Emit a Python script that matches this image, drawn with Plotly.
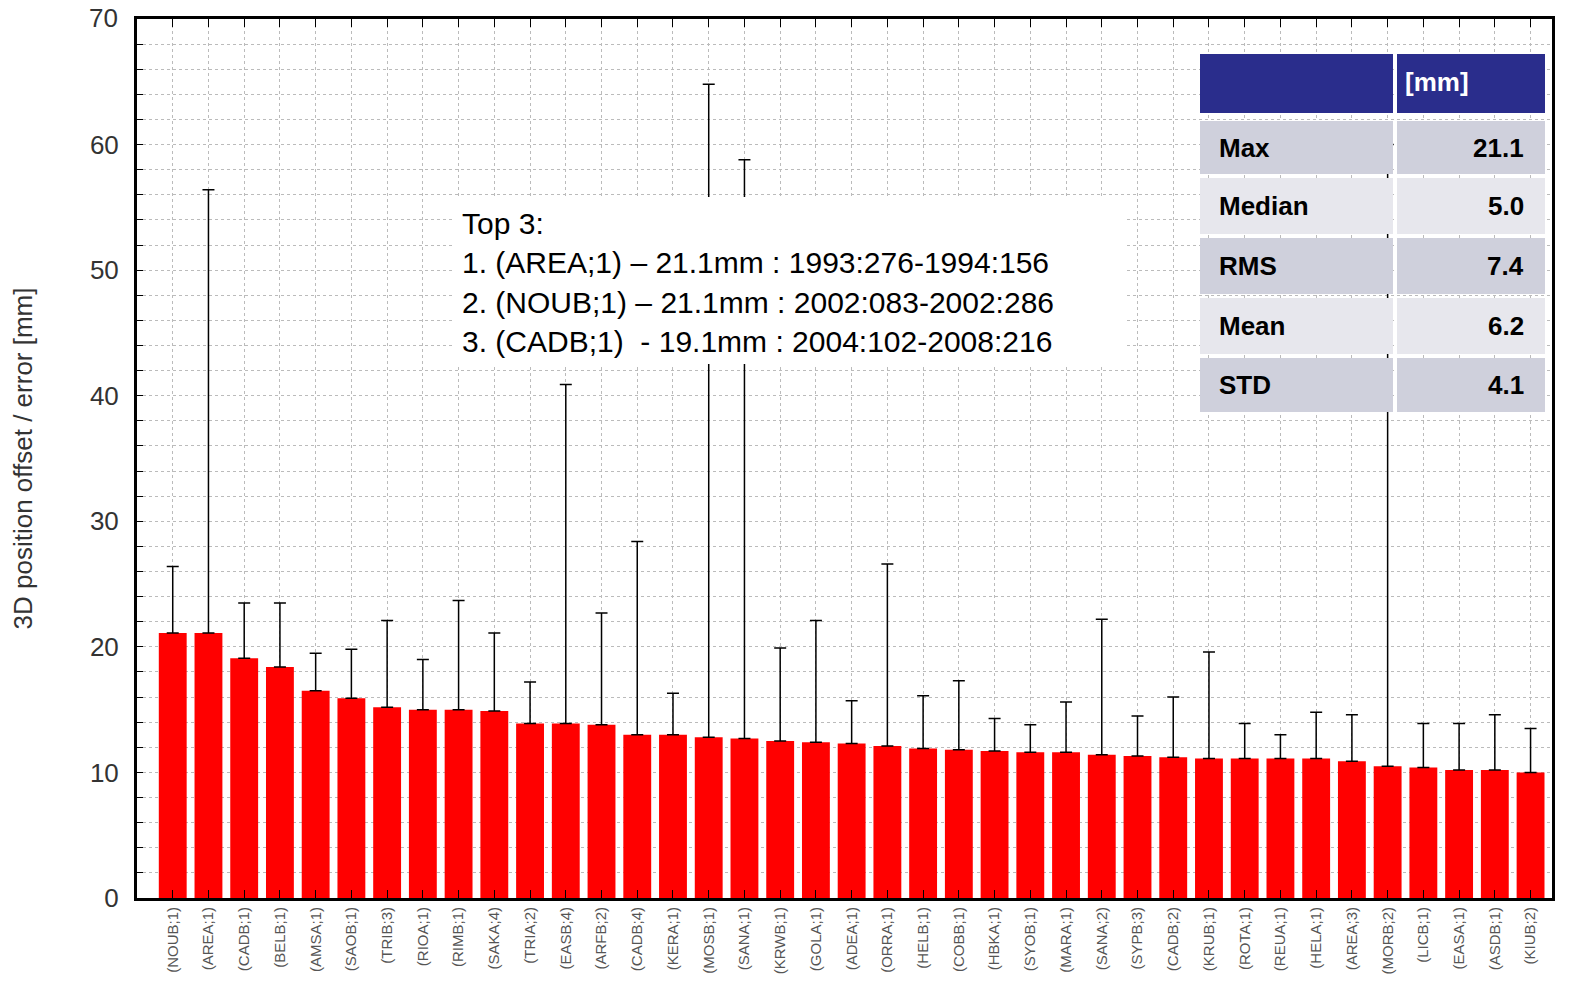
import plotly.graph_objects as go

stations = ["NOUB;1", "AREA;1", "CADB;1", "BELB;1", "AMSA;1", "SAOB;1", "TRIB;3", "RIOA;1",
            "RIMB;1", "SAKA;4", "TRIA;2", "EASB;4", "ARFB;2", "CADB;4", "KERA;1", "MOSB;1",
            "SANA;1", "KRWB;1", "GOLA;1", "ADEA;1", "ORRA;1", "HELB;1", "COBB;1", "HBKA;1",
            "SYOB;1", "MARA;1", "SANA;2", "SYPB;3", "CADB;2", "KRUB;1", "ROTA;1", "REUA;1",
            "HELA;1", "AREA;3", "MORB;2", "LICB;1", "EASA;1", "ASDB;1", "KIUB;2"]
offset = [21.1, 21.1, 19.1, 18.4, 16.5, 15.9, 15.2, 15.0, 15.0, 14.9, 13.9, 13.9, 13.8,
          13.0, 13.0, 12.8, 12.7, 12.5, 12.4, 12.3, 12.1, 11.9, 11.8, 11.7, 11.6, 11.6,
          11.4, 11.3, 11.2, 11.1, 11.1, 11.1, 11.1, 10.9, 10.5, 10.4, 10.2, 10.2, 10.0]
upper = [26.4, 56.4, 23.5, 23.5, 19.5, 19.8, 22.1, 19.0, 23.7, 21.1, 17.2, 40.9, 22.7,
         28.4, 16.3, 64.8, 58.8, 19.9, 22.1, 15.7, 26.6, 16.1, 17.3, 14.3, 13.8, 15.6,
         22.2, 14.5, 16.0, 19.6, 13.9, 13.0, 14.8, 14.6, 60.0, 13.9, 13.9, 14.6, 13.5]
stat_names = ["Max", "Median", "RMS", "Mean", "STD"]
stat_values = ["21.1", "5.0", "7.4", "6.2", "4.1"]
top3 = ["Top 3:",
        "1. (AREA;1) \u2013 21.1mm : 1993:276-1994:156",
        "2. (NOUB;1) \u2013 21.1mm : 2002:083-2002:286",
        "3. (CADB;1)  - 19.1mm : 2004:102-2008:216"]

idx = list(range(len(stations)))
err = [u - v for u, v in zip(upper, offset)]

fig = go.Figure(go.Bar(
    x=idx, y=offset, width=0.78, marker=dict(color="#ff0000", line_width=0),
    error_y=dict(type="data", symmetric=False, array=err, arrayminus=[0] * len(err),
                 color="black", thickness=1.5, width=6),
))

font = "Liberation Sans, Arial"
fig.update_layout(
    width=1572, height=997, margin=dict(l=129, r=28, t=11, b=107),
    plot_bgcolor="white", paper_bgcolor="white", showlegend=False,
    font=dict(family=font, color="#333"),
)
fig.update_xaxes(
    range=[-1.0, 38.6], tickvals=idx, ticktext=["(" + s + ")" for s in stations],
    tickangle=-90, tickfont=dict(size=15, color="#555"), automargin=False,
    showgrid=True, gridcolor="#bbb", griddash="dot", gridwidth=1,
    showline=True, linecolor="black", linewidth=3, mirror="ticks",
    ticks="inside", ticklen=8, tickcolor="black", zeroline=False,
)
fig.update_yaxes(
    range=[0, 70], tickvals=list(range(0, 71, 2)),
    ticktext=[str(v) if v % 10 == 0 else "" for v in range(0, 71, 2)],
    tickfont=dict(size=26, color="#333"), automargin=False, ticklabelstandoff=10,
    title=dict(text="3D position offset / error [mm]", font=dict(size=26, color="#333"), standoff=52),
    showgrid=True, gridcolor="#bbb", griddash="dot", gridwidth=1,
    showline=True, linecolor="black", linewidth=3, mirror=True,
    ticks="inside", ticklen=6, tickcolor="black", zeroline=False,
)
fig.add_annotation(xref="paper", yref="paper", x=0, y=1, text="70", showarrow=False,
                   xanchor="right", yanchor="middle", xshift=-17, yshift=1,
                   font=dict(size=26, color="#333", family=font))


def px_x(p):
    return (p - 135) / 1415


def px_y(p):
    return (896 - p) / 879


# text box
fig.add_shape(type="rect", xref="paper", yref="paper", x0=px_x(450), x1=px_x(1125),
              y0=px_y(362), y1=px_y(195), fillcolor="white", line_width=0, layer="above")
for i, line in enumerate(top3):
    fig.add_annotation(xref="paper", yref="paper", x=px_x(458), y=px_y(222 + 39 * i),
                       text=line, showarrow=False, xanchor="left", yanchor="middle",
                       font=dict(size=30, color="black", family=font))

# stats table
navy = "#2a2d8c"
fig.add_shape(type="rect", xref="paper", yref="paper", x0=px_x(1198), x1=px_x(1391), y0=px_y(111), y1=px_y(52),
              fillcolor=navy, line_width=0, layer="above")
fig.add_shape(type="rect", xref="paper", yref="paper", x0=px_x(1395), x1=px_x(1543), y0=px_y(111), y1=px_y(52),
              fillcolor=navy, line_width=0, layer="above")
fig.add_annotation(xref="paper", yref="paper", x=px_x(1469), y=px_y(80), text="<b>[mm]</b>", showarrow=False,
                   yanchor="middle", font=dict(size=26, color="white", family=font))
rows = [(119, 172), (176, 232), (236, 292), (296, 352), (356, 410)]
for i, (r0, r1) in enumerate(rows):
    col = "#cfd0dc" if i % 2 == 0 else "#e7e7ed"
    fig.add_shape(type="rect", xref="paper", yref="paper", x0=px_x(1198), x1=px_x(1391), y0=px_y(r1), y1=px_y(r0),
                  fillcolor=col, line_width=0, layer="above")
    fig.add_shape(type="rect", xref="paper", yref="paper", x0=px_x(1395), x1=px_x(1543), y0=px_y(r1), y1=px_y(r0),
                  fillcolor=col, line_width=0, layer="above")
    ym = px_y((r0 + r1) / 2)
    fig.add_annotation(xref="paper", yref="paper", x=px_x(1215), y=ym, text="<b>" + stat_names[i] + "</b>",
                       showarrow=False, xanchor="left", yanchor="middle",
                       font=dict(size=26, color="black", family=font))
    fig.add_annotation(xref="paper", yref="paper", x=px_x(1524), y=ym, text="<b>" + stat_values[i] + "</b>",
                       showarrow=False, xanchor="right", yanchor="middle",
                       font=dict(size=26, color="black", family=font))

fig.write_html("out.html")
